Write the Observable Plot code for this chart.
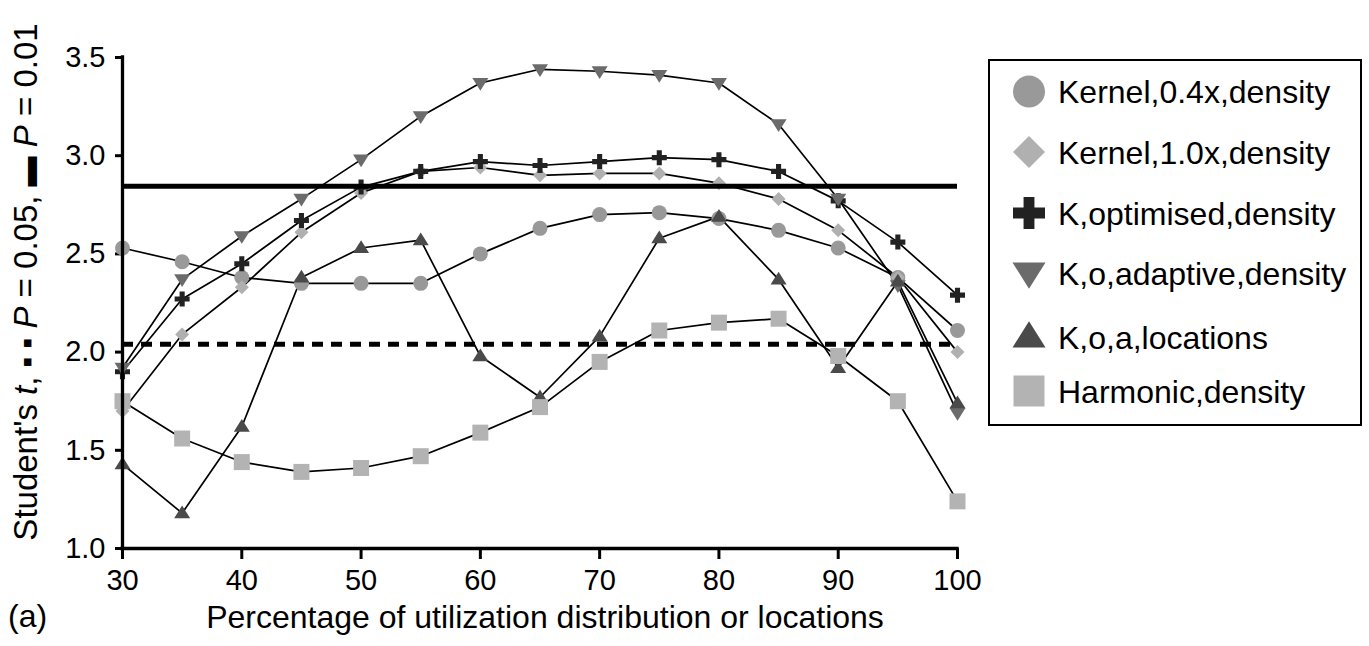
<!DOCTYPE html>
<html>
<head>
<meta charset="utf-8">
<script src="https://cdn.jsdelivr.net/npm/d3@7"></script>
<script src="https://cdn.jsdelivr.net/npm/@observablehq/plot@0.6"></script>
<style>
  html, body { margin: 0; padding: 0; background: #fff; }
  #chart { width: 1369px; height: 646px; }
  svg { font-family: "Liberation Sans", Arial, sans-serif; }
</style>
</head>
<body>
<div id="chart"></div>
<script>
// ---------- data ----------
const percentages = [30, 35, 40, 45, 50, 55, 60, 65, 70, 75, 80, 85, 90, 95, 100];
const seriesNames = [
  "Kernel,0.4x,density",
  "Kernel,1.0x,density",
  "K,optimised,density",
  "K,o,adaptive,density",
  "K,o,a,locations",
  "Harmonic,density"
];
const kernel04 = [2.53, 2.46, 2.38, 2.35, 2.35, 2.35, 2.50, 2.63, 2.70, 2.71, 2.68, 2.62, 2.53, 2.38, 2.11];
const kernel10 = [1.70, 2.09, 2.33, 2.61, 2.81, 2.92, 2.94, 2.90, 2.91, 2.91, 2.86, 2.78, 2.62, 2.38, 2.00];
const kOptimised = [1.90, 2.27, 2.45, 2.67, 2.84, 2.92, 2.97, 2.95, 2.97, 2.99, 2.98, 2.92, 2.77, 2.56, 2.29];
const kAdaptive = [1.92, 2.37, 2.59, 2.78, 2.98, 3.20, 3.37, 3.44, 3.43, 3.41, 3.37, 3.16, 2.78, 2.34, 1.69];
const kLocations = [1.43, 1.18, 1.62, 2.38, 2.53, 2.57, 1.98, 1.77, 2.08, 2.58, 2.69, 2.37, 1.92, 2.36, 1.74];
const harmonic = [1.75, 1.56, 1.44, 1.39, 1.41, 1.47, 1.59, 1.72, 1.95, 2.11, 2.15, 2.17, 1.98, 1.75, 1.24];
const tCritical05 = 2.04;
const tCritical01 = 2.845;
const xTicks = [30, 40, 50, 60, 70, 80, 90, 100];
const yTicks = [1.0, 1.5, 2.0, 2.5, 3.0, 3.5];

// ---------- symbols (size -> half-width r) ----------
const rOf = size => Math.sqrt(size / Math.PI);
const symCircle = { draw(c, s) { const r = rOf(s); c.moveTo(r, 0); c.arc(0, 0, r, 0, 2 * Math.PI); } };
const symDiamond = { draw(c, s) { const r = rOf(s); c.moveTo(0, -r); c.lineTo(r, 0); c.lineTo(0, r); c.lineTo(-r, 0); c.closePath(); } };
const symPlus = { draw(c, s) { const r = rOf(s), t = r * 0.34;
  c.moveTo(-t, -r); c.lineTo(t, -r); c.lineTo(t, -t); c.lineTo(r, -t); c.lineTo(r, t); c.lineTo(t, t);
  c.lineTo(t, r); c.lineTo(-t, r); c.lineTo(-t, t); c.lineTo(-r, t); c.lineTo(-r, -t); c.lineTo(-t, -t); c.closePath(); } };
const symTriUp = { draw(c, s) { const r = rOf(s), h = r * 1.732 * 0.92;
  c.moveTo(0, -h * 0.6); c.lineTo(r, h * 0.4); c.lineTo(-r, h * 0.4); c.closePath(); } };
const symTriDown = { draw(c, s) { const r = rOf(s), h = r * 1.732 * 0.92;
  c.moveTo(0, h * 0.6); c.lineTo(r, -h * 0.4); c.lineTo(-r, -h * 0.4); c.closePath(); } };
const symSquare = { draw(c, s) { const r = rOf(s); c.rect(-r, -r, 2 * r, 2 * r); } };

const styles = [
  { values: kernel04,   symbol: symCircle,  fill: "#999999", r: 7.5, lr: 16 },
  { values: kernel10,   symbol: symDiamond, fill: "#b0b0b0", r: 7,   lr: 16 },
  { values: kOptimised, symbol: symPlus,    fill: "#222222", r: 7.5, lr: 16 },
  { values: kAdaptive,  symbol: symTriDown, fill: "#6b6b6b", r: 8,   lr: 16.5 },
  { values: kLocations, symbol: symTriUp,   fill: "#4a4a4a", r: 8,   lr: 16.5 },
  { values: harmonic,   symbol: symSquare,  fill: "#b3b3b3", r: 8,   lr: 15.5 }
];

const rows = [];
styles.forEach((st, i) => st.values.forEach((v, j) => rows.push({ x: percentages[j], y: v, series: seriesNames[i] })));

const dotMarks = styles.map((st, i) =>
  Plot.dot(rows.filter(d => d.series === seriesNames[i]), {
    x: "x", y: "y", symbol: () => st.symbol, fill: st.fill, stroke: "none", r: st.r
  })
);

const svg = Plot.plot({
  width: 1369,
  height: 646,
  marginLeft: 122,
  marginRight: 412,
  marginTop: 57,
  marginBottom: 98,
  style: { background: "#fff", color: "#000", fontFamily: "Liberation Sans, Arial, sans-serif", fontSize: "29px", overflow: "visible" },
  x: { domain: [30, 100] },
  y: { domain: [1, 3.5] },
  symbol: { type: "identity" },
  marks: [
    Plot.axisY({ ticks: yTicks, tickFormat: d3.format(".1f"), tickSize: 7, tickPadding: 10, fontSize: 29, label: null }),
    Plot.axisX({ ticks: xTicks, tickFormat: d => String(d), tickSize: 11, tickPadding: 10, fontSize: 29, label: null }),
    Plot.line(rows, { x: "x", y: "y", z: "series", stroke: "#000", strokeWidth: 1.7 }),
    ...dotMarks,
    Plot.ruleY([tCritical01], { x1: 30, x2: 100, stroke: "#000", strokeWidth: 5 }),
    Plot.ruleY([tCritical05], { x1: 30, x2: 100, stroke: "#000", strokeWidth: 5, strokeDasharray: "11,8" }),
    Plot.ruleX([30], { y1: 1, y2: 3.5, stroke: "#000", strokeWidth: 3.3, strokeLinecap: "square" }),
    Plot.ruleY([1], { x1: 30, x2: 100, stroke: "#000", strokeWidth: 3.3, strokeLinecap: "square" })
  ]
});

const root = d3.select(svg);
root.selectAll('g[aria-label$="axis tick"]').attr("stroke-width", 3);

// y-axis title
const yt = root.append("text")
  .attr("transform", "translate(37,282) rotate(-90)")
  .attr("text-anchor", "middle")
  .attr("font-size", 33)
  .attr("fill", "#000");
yt.append("tspan").text("Student's ");
yt.append("tspan").attr("font-style", "italic").text("t");
yt.append("tspan").text(", ");
yt.append("tspan").attr("font-size", 30).attr("font-weight", "bold").text("\u25AA \u25AA");
yt.append("tspan").text(" ");
yt.append("tspan").attr("font-style", "italic").text("P");
yt.append("tspan").text(" = 0.05, ");
yt.append("tspan").attr("font-size", 30).text("\u25AC");
yt.append("tspan").text(" ");
yt.append("tspan").attr("font-style", "italic").text("P");
yt.append("tspan").text(" = 0.01");

// x-axis title and panel label
root.append("text").attr("x", 545).attr("y", 628).attr("text-anchor", "middle")
  .attr("font-size", 32).attr("fill", "#000").text("Percentage of utilization distribution or locations");
root.append("text").attr("x", 8).attr("y", 627).attr("text-anchor", "start")
  .attr("font-size", 32).attr("fill", "#000").text("(a)");

// legend
const lg = root.append("g").attr("text-anchor", "start");
lg.append("rect").attr("x", 989).attr("y", 60).attr("width", 372).attr("height", 365)
  .attr("fill", "#fff").attr("stroke", "#000").attr("stroke-width", 2);
const rowY = [91.5, 152, 213, 273, 337, 391];
const symX = 1029;
styles.forEach((st, i) => {
  const size = Math.PI * st.lr * st.lr;
  lg.append("path").attr("transform", `translate(${symX},${rowY[i]})`)
    .attr("d", d3.symbol(st.symbol, size)()).attr("fill", st.fill);
  lg.append("text").attr("x", 1058).attr("y", rowY[i] + 11.5).attr("text-anchor", "start")
    .attr("font-size", 32).attr("fill", "#000").text(seriesNames[i]);
});

document.getElementById("chart").appendChild(svg);
</script>
</body>
</html>
